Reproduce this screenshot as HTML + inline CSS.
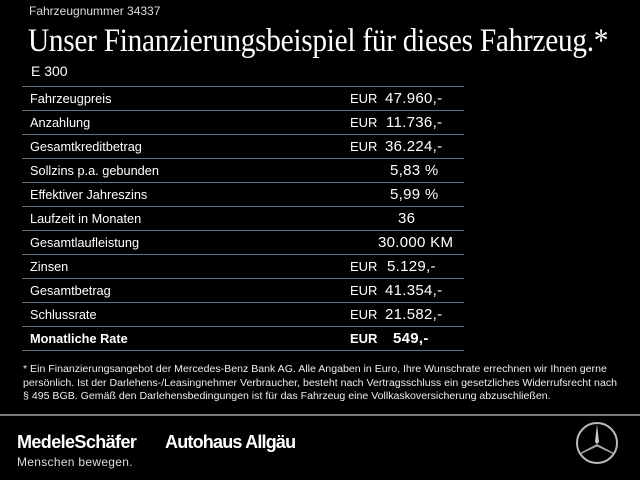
<!DOCTYPE html>
<html><head><meta charset="utf-8"><style>
body{margin:0;width:640px;height:480px;background:#000;color:#fff;font-family:"Liberation Sans",sans-serif;position:relative;overflow:hidden}
.a{position:absolute;white-space:nowrap}
.line{position:absolute;left:22px;width:442px;height:1px;background:#5d7487}
.row{position:absolute;left:30px;font-size:13px;transform:scaleX(0.98);transform-origin:left}
.eur{position:absolute;left:350px;font-size:13px}
.val{position:absolute;font-size:15px;letter-spacing:0.3px}
</style></head><body>
<div class="a" style="left:29px;top:4px;font-size:12px;color:#ddd">Fahrzeugnummer 34337</div>
<div class="a" style="left:28px;top:23px;font-family:'Liberation Serif',serif;font-size:33px;transform:scaleX(0.888);transform-origin:left;letter-spacing:-0.3px">Unser Finanzierungsbeispiel für dieses Fahrzeug.*</div>
<div class="a" style="left:31px;top:63px;font-size:14px">E 300</div>

<div class="line" style="top:86px"></div>
<div class="line" style="top:110px"></div>
<div class="line" style="top:134px"></div>
<div class="line" style="top:158px"></div>
<div class="line" style="top:182px"></div>
<div class="line" style="top:206px"></div>
<div class="line" style="top:230px"></div>
<div class="line" style="top:254px"></div>
<div class="line" style="top:278px"></div>
<div class="line" style="top:302px"></div>
<div class="line" style="top:326px"></div>
<div class="line" style="top:350px"></div>

<div class="a row" style="top:91px">Fahrzeugpreis</div><div class="a eur" style="top:91px">EUR</div><div class="a val" style="left:385px;top:90px">47.960,-</div>
<div class="a row" style="top:115px">Anzahlung</div><div class="a eur" style="top:115px">EUR</div><div class="a val" style="left:386px;top:114px">11.736,-</div>
<div class="a row" style="top:139px">Gesamtkreditbetrag</div><div class="a eur" style="top:139px">EUR</div><div class="a val" style="left:385px;top:138px">36.224,-</div>
<div class="a row" style="top:163px">Sollzins p.a. gebunden</div><div class="a val" style="left:390px;top:162px">5,83 %</div>
<div class="a row" style="top:187px">Effektiver Jahreszins</div><div class="a val" style="left:390px;top:186px">5,99 %</div>
<div class="a row" style="top:211px">Laufzeit in Monaten</div><div class="a val" style="left:398px;top:210px">36</div>
<div class="a row" style="top:235px">Gesamtlaufleistung</div><div class="a val" style="left:378px;top:234px">30.000 KM</div>
<div class="a row" style="top:259px">Zinsen</div><div class="a eur" style="top:259px">EUR</div><div class="a val" style="left:387px;top:258px">5.129,-</div>
<div class="a row" style="top:283px">Gesamtbetrag</div><div class="a eur" style="top:283px">EUR</div><div class="a val" style="left:385px;top:282px">41.354,-</div>
<div class="a row" style="top:307px">Schlussrate</div><div class="a eur" style="top:307px">EUR</div><div class="a val" style="left:385px;top:306px">21.582,-</div>
<div class="a row" style="top:331px;font-weight:bold">Monatliche Rate</div><div class="a eur" style="top:331px;font-weight:bold">EUR</div><div class="a val" style="left:393px;top:330px;font-weight:bold">549,-</div>

<div class="a" style="left:23px;top:363px;font-size:9.8px;line-height:13.5px;color:#eee;transform:scaleX(1.08);transform-origin:left">* Ein Finanzierungsangebot der Mercedes-Benz Bank AG. Alle Angaben in Euro, Ihre Wunschrate errechnen wir Ihnen gerne<br>persönlich. Ist der Darlehens-/Leasingnehmer Verbraucher, besteht nach Vertragsschluss ein gesetzliches Widerrufsrecht nach<br>§ 495 BGB. Gemäß den Darlehensbedingungen ist für das Fahrzeug eine Vollkaskoversicherung abzuschließen.</div>

<div class="a" style="left:0;top:414px;width:640px;height:2px;background:#777"></div>
<div class="a" style="left:17px;top:432px;font-size:18px;font-weight:bold;letter-spacing:-0.6px">MedeleSchäfer</div>
<div class="a" style="left:165px;top:432px;font-size:18px;font-weight:bold;letter-spacing:-0.8px">Autohaus Allgäu</div>
<div class="a" style="left:17px;top:455px;font-size:12px;color:#ddd;letter-spacing:0.3px">Menschen bewegen.</div>
<svg class="a" style="left:575px;top:421px" width="44" height="44" viewBox="0 0 44 44">
<circle cx="22" cy="22" r="20" fill="none" stroke="#bbb" stroke-width="2"/>
<polygon points="22,3 24,21 22,23 20,21" fill="#ccc"/>
<polygon points="22,23 39,32 38,33 21,25" fill="#aaa"/>
<polygon points="22,23 5,32 6,33 23,25" fill="#aaa"/>
</svg>
</body></html>
